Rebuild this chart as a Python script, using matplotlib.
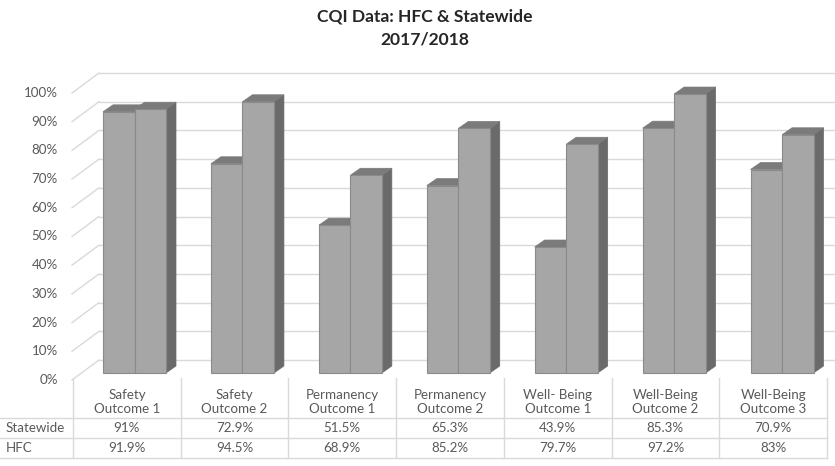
import matplotlib.pyplot as plt
from matplotlib.patches import Polygon

plt.rcParams['font.family'] = ['Lato', 'DejaVu Sans']

categories = ["Safety\nOutcome 1", "Safety\nOutcome 2", "Permanency\nOutcome 1",
              "Permanency\nOutcome 2", "Well- Being\nOutcome 1", "Well-Being\nOutcome 2",
              "Well-Being\nOutcome 3"]
series_names = ["Statewide", "HFC"]
statewide = [91, 72.9, 51.5, 65.3, 43.9, 85.3, 70.9]
hfc = [91.9, 94.5, 68.9, 85.2, 79.7, 97.2, 83]
yticks = [0, 10, 20, 30, 40, 50, 60, 70, 80, 90, 100]

W, H = 835, 466
front_col = "#a6a6a6"
edge_col = "#8a8a8a"
side_col = "#6a6a6a"
top_col = "#7b7b7b"
grid_col = "#d9d9d9"
text_col = "#595959"
fs = 9.6

fig = plt.figure(figsize=(W / 100, H / 100), dpi=100)
fig.patch.set_facecolor("white")

# main plot area: x in category units, y in percent
unit_x = 107.92   # px per category
unit_y = 2.87     # px per percent
base_px = 373     # pixel row of 0%
x0_px = 134.5     # pixel of first group centre
ylo, yhi = -3, 106
ax = fig.add_axes([0, (H - (base_px - unit_y * ylo)) / H, 1, unit_y * (yhi - ylo) / H])
ax.set_xlim(-x0_px / unit_x, (W - x0_px) / unit_x)
ax.set_ylim(ylo, yhi)
ax.axis("off")

# 3d depth (bars and walls)
bdx, bdy = 10 / unit_x, 7 / unit_y
Dx, Dy = 27 / unit_x, 20 / unit_y
fx, fy = -0.35 * Dx, -0.35 * Dy     # front plane relative to bar front
bx, by = fx + Dx, fy + Dy           # back wall
xl = (72 - x0_px) / unit_x
xr = ax.get_xlim()[1]

for v in yticks:
    ax.plot([xl, xl + Dx], [v + fy, v + by], color=grid_col, lw=1, zorder=1)
    ax.plot([xl + Dx, xr], [v + by, v + by], color=grid_col, lw=1, zorder=1)
    ax.text((58 - x0_px) / unit_x, v + fy, f"{v}%", ha="right", va="center",
            fontsize=fs, color=text_col)

bw = 31.5 / unit_x
z = 2
for i in range(len(categories)):
    for j, vals in enumerate([statewide, hfc]):
        xc = i + (j - 0.5) * bw
        v = vals[i]
        ax.bar(xc, v, bw, color=front_col, edgecolor=edge_col, lw=0.8, zorder=z + 2)
        xrt = xc + bw / 2
        side = Polygon([(xrt, 0), (xrt + bdx, bdy), (xrt + bdx, v + bdy), (xrt, v)],
                       closed=True, facecolor=side_col, edgecolor=side_col, lw=0.5, zorder=z)
        top = Polygon([(xc - bw / 2, v), (xrt, v), (xrt + bdx, v + bdy), (xc - bw / 2 + bdx, v + bdy)],
                      closed=True, facecolor=top_col, edgecolor=top_col, lw=0.5, zorder=z + 1)
        ax.add_patch(side)
        ax.add_patch(top)
        z += 3

# data table below
cw = 754 / 7
tax = fig.add_axes([0, 0, 1, (H - 378) / H])
tax.set_xlim(-73 / cw, (W - 73) / cw)
tax.set_ylim(4.4, 0)
tax.axis("off")
for k in range(len(categories) + 1):
    tax.plot([k, k], [0, 4], color=grid_col, lw=1)
for r in [2, 3, 4]:
    tax.plot([-73 / cw, len(categories)], [r, r], color=grid_col, lw=1)
for i, cat in enumerate(categories):
    tax.text(i + 0.5, 1.2, cat, ha="center", va="center", fontsize=fs,
             color=text_col, linespacing=1.25)
    tax.text(i + 0.5, 2.5, f"{statewide[i]:g}%", ha="center", va="center",
             fontsize=fs, color=text_col)
    tax.text(i + 0.5, 3.5, f"{hfc[i]:g}%", ha="center", va="center",
             fontsize=fs, color=text_col)
for r, name in enumerate(series_names):
    tax.text(-67 / cw, 2.5 + r, name, ha="left", va="center", fontsize=fs,
             color=text_col)

fig.text(425 / W, 1 - 28 / H, "CQI Data: HFC & Statewide\n2017/2018", ha="center",
         va="center", fontsize=12.6, fontweight="bold", color="#262626", linespacing=1.5)

fig.savefig("out.png", dpi=100)
